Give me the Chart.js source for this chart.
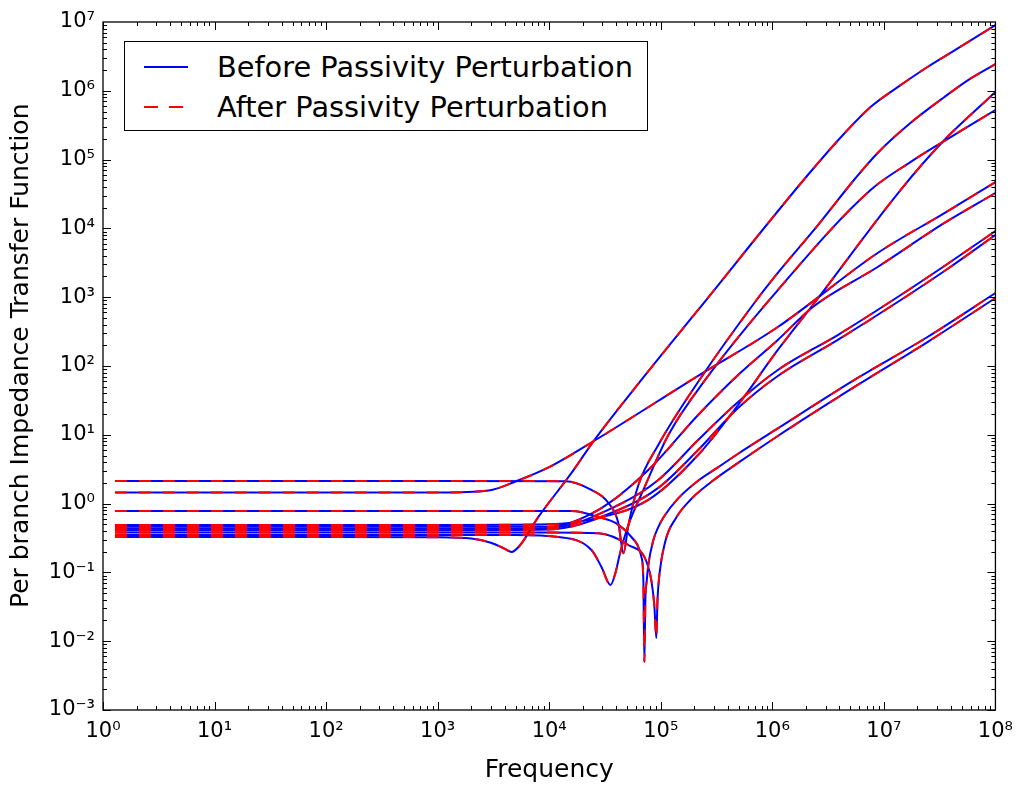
<!DOCTYPE html>
<html><head><meta charset="utf-8">
<script src="https://cdn.jsdelivr.net/npm/chart.js@4.4.1/dist/chart.umd.min.js"></script>
<style>
html,body{margin:0;padding:0;background:#fff;}
#wrap{position:relative;width:1022px;height:786px;}
#legend{position:absolute;left:124px;top:41px;width:522px;height:88px;border:1px solid #000;background:#fff;font-family:'DejaVu Sans',sans-serif;font-size:28.8px;color:#000;}
#legend .lab{position:absolute;left:92px;white-space:nowrap;line-height:34px;height:34px;}
#legend svg{position:absolute;left:0;top:0;}
</style></head>
<body><div id="wrap"><canvas id="c" width="1022" height="786"></canvas>
<div id="legend">
<svg width="100" height="88"><line x1="19" y1="25" x2="63" y2="25" stroke="#0000ff" stroke-width="2"/><line x1="19" y1="65" x2="63" y2="65" stroke="#ff0000" stroke-width="2" stroke-dasharray="14 11"/></svg>
<div class="lab" style="top:8px">Before Passivity Perturbation</div>
<div class="lab" style="top:48px">After Passivity Perturbation</div>
</div></div>
<script>
// Frequencies (Hz) and impedance values, one pair per branch
const fA = [1.28, 100, 1000, 2000, 3000, 4000, 4600, 5500, 8000, 15850, 25000, 67000, 216000, 2.08e6, 4.46e6, 7.6e6, 1.33e7, 2.46e7, 4.56e7, 1e8];
const vA = [0.327, 0.327, 0.325, 0.31, 0.27, 0.22, 0.198, 0.25, 0.64, 2.79, 8.1, 62.7, 652, 59700, 2.44e5, 5.82e5, 1.13e6, 2.22e6, 4.1e6, 9.0e6];

const fB = [1.28, 1000, 14000, 23900, 34000, 41700, 46200, 51300, 63000, 95000, 216000, 700000, 1.12e6, 2.5e6, 5.58e6, 8.79e6, 1.73e7, 3.49e7, 5.96e7, 1e8];
const vB = [2.13, 2.13, 2.12, 1.58, 1.02, 0.52, 0.19, 0.49, 1.86, 7.1, 58.5, 851, 2250, 1.06e4, 5.4e4, 1.25e5, 3.4e5, 8.13e5, 1.5e6, 2.45e6];

const fC = [1.28, 1000, 9880, 27600, 77300, 216000, 493000, 1.12e6, 2.31e6, 1.41e7, 3.35e7, 1e8];
const vC = [0.489, 0.489, 0.50, 0.62, 1.13, 5.08, 27.1, 171, 771, 3.61e4, 1.8e5, 9.6e5];

const fD = [1.28, 1000, 5000, 12100, 23900, 29400, 35400, 39200, 43400, 51300, 69800, 117000, 250000, 1.12e6, 7.6e6, 1.73e7, 3.35e7, 1e8];
const vD = [0.35, 0.35, 0.35, 0.327, 0.212, 0.12, 0.0656, 0.098, 0.198, 0.489, 1.58, 9.94, 62.7, 1270, 3.61e4, 9.2e4, 1.8e5, 5.26e5];

const fE = [1.28, 1000, 2870, 5110, 9880, 26000, 216000, 1.12e6, 8.79e6, 3.49e7, 1e8];
const vE = [1.45, 1.45, 1.55, 2.13, 3.35, 8.4, 72, 369, 4390, 1.67e4, 4.72e4];

const fF = [1.28, 1000, 9880, 27600, 77300, 216000, 493000, 1.12e6, 2.31e6, 8.79e6, 3.49e7, 1e8];
const vF = [0.46, 0.46, 0.46, 0.81, 3.07, 19.4, 74, 239, 721, 2750, 1.2e4, 3.27e4];

const fG = [1.28, 1000, 9880, 41700, 95000, 216000, 493000, 1.12e6, 3.86e6, 1.33e7, 3.71e7, 1e8];
const vG = [0.43, 0.43, 0.44, 0.955, 2.2, 8.4, 30, 87.5, 282, 1007, 3040, 9170];

const fH = [1.28, 1000, 9880, 41700, 95000, 216000, 493000, 1.12e6, 3.86e6, 1.33e7, 3.71e7, 1e8];
const vH = [0.41, 0.41, 0.42, 0.807, 1.69, 6.0, 24.5, 71.6, 239, 851, 2570, 8020];

const fI = [1.28, 1000, 15850, 27600, 39200, 54500, 67000, 69800, 71300, 72800, 74900, 77300, 85600, 95000, 107000, 142600, 216000, 320000, 493000, 1.12e6, 5.82e6, 2.46e7, 1e8];
const vI = [0.78, 0.78, 0.78, 0.64, 0.523, 0.327, 0.168, 0.0776, 0.005, 0.04, 0.076, 0.127, 0.29, 0.456, 0.65, 1.18, 2.15, 3.3, 5.3, 12.4, 67, 264, 1150];

const fJ = [1.28, 1000, 9880, 27600, 51300, 77300, 87500, 91200, 93500, 95800, 109000, 137000, 182000, 274000, 493000, 1.12e6, 5.82e6, 2.46e7, 1e8];
const vJ = [0.38, 0.38, 0.38, 0.37, 0.25, 0.12, 0.0336, 0.0111, 0.04, 0.073, 0.27, 0.62, 1.11, 1.98, 3.9, 9.6, 53, 223, 973];

const xTicks = [1, 10, 100, 1e3, 1e4, 1e5, 1e6, 1e7, 1e8];
const xTickLabels = ['10⁰', '10¹', '10²', '10³', '10⁴', '10⁵', '10⁶', '10⁷', '10⁸'];
const yTicks = [1e-3, 1e-2, 1e-1, 1, 10, 100, 1e3, 1e4, 1e5, 1e6, 1e7];
const yTickLabels = ['10⁻³', '10⁻²', '10⁻¹', '10⁰', '10¹', '10²', '10³', '10⁴', '10⁵', '10⁶', '10⁷'];

const curves = [[fA, vA], [fB, vB], [fC, vC], [fD, vD], [fE, vE], [fF, vF], [fG, vG], [fH, vH], [fI, vI], [fJ, vJ]];

const FONT = "'DejaVu Sans', sans-serif";
const datasets = [];
curves.forEach(([f, v]) => {
  const pts = f.map((x, i) => ({x: x, y: v[i]}));
  datasets.push({label: 'Before Passivity Perturbation', data: pts, borderColor: '#0000ff', borderWidth: 2,
    pointRadius: 0, cubicInterpolationMode: 'monotone', fill: false, order: 2});
  datasets.push({label: 'After Passivity Perturbation', data: pts.map(p => ({x: p.x, y: p.y})), borderColor: '#ff0000', borderWidth: 2,
    borderDash: [12, 12], pointRadius: 0, cubicInterpolationMode: 'monotone', fill: false, order: 1});
});

const framePlugin = {
  id: 'frame',
  afterDatasetsDraw(chart) {
    const {ctx, chartArea: a, scales: {x, y}} = chart;
    ctx.save();
    ctx.strokeStyle = '#000';
    ctx.lineWidth = 1;
    ctx.beginPath();
    for (let e = 0; e < 8; e++) {
      for (let m = 1; m <= 9; m++) {
        const px = Math.round(x.getPixelForValue(m * Math.pow(10, e))) + 0.5;
        const len = m === 1 ? 8 : 4;
        ctx.moveTo(px, a.bottom); ctx.lineTo(px, a.bottom - len);
        ctx.moveTo(px, a.top); ctx.lineTo(px, a.top + len);
      }
    }
    for (let e = -3; e < 7; e++) {
      for (let m = 1; m <= 9; m++) {
        const py = Math.round(y.getPixelForValue(m * Math.pow(10, e))) + 0.5;
        const len = m === 1 ? 8 : 4;
        ctx.moveTo(a.left, py); ctx.lineTo(a.left + len, py);
        ctx.moveTo(a.right, py); ctx.lineTo(a.right - len, py);
      }
    }
    ctx.stroke();
    ctx.lineWidth = 1.3;
    ctx.strokeRect(a.left, a.top, a.right - a.left, a.bottom - a.top);
    ctx.restore();
  }
};

new Chart(document.getElementById('c'), {
  type: 'line',
  data: {datasets},
  options: {
    responsive: false,
    animation: false,
    devicePixelRatio: 1,
    layout: {padding: {top: 22, right: 21, left: 0, bottom: 0}},
    plugins: {legend: {display: false}, tooltip: {enabled: false}},
    scales: {
      x: {
        type: 'logarithmic', min: 1, max: 1e8,
        afterBuildTicks: s => { s.ticks = xTicks.map(v => ({value: v})); },
        afterFit: s => { s.height = 76; },
        ticks: {callback: v => xTickLabels[xTicks.indexOf(v)], font: {family: FONT, size: 21}, color: '#000', padding: 9, maxRotation: 0, autoSkip: false},
        grid: {display: false, drawTicks: false},
        border: {display: false},
        title: {display: true, text: 'Frequency', font: {family: FONT, size: 25}, color: '#000', padding: {top: 0, bottom: 1}}
      },
      y: {
        type: 'logarithmic', min: 1e-3, max: 1e7,
        afterBuildTicks: s => { s.ticks = yTicks.map(v => ({value: v})); },
        afterFit: s => { s.width = 103; },
        ticks: {callback: v => yTickLabels[yTicks.indexOf(v)], font: {family: FONT, size: 21}, color: '#000', padding: 8, autoSkip: false},
        grid: {display: false, drawTicks: false},
        border: {display: false},
        title: {display: true, text: '\u2002 Per branch Impedance Transfer Function', font: {family: FONT, size: 25}, color: '#000', padding: {top: 6, bottom: 0}}
      }
    }
  },
  plugins: [framePlugin]
});
</script>
</body></html>
